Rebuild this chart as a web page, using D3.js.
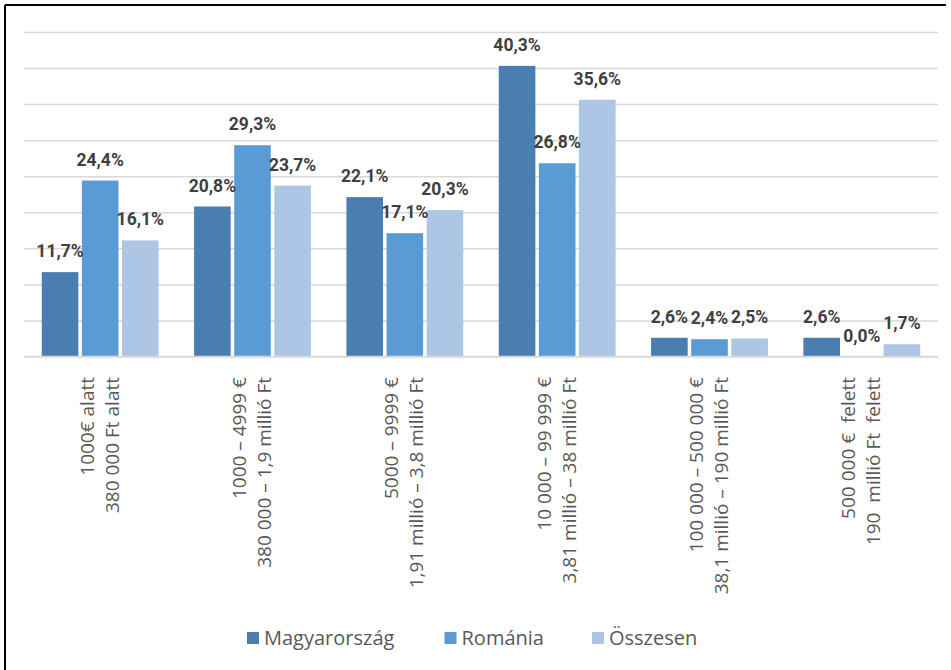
<!DOCTYPE html>
<html>
<head>
<meta charset="utf-8">
<script src="https://cdn.jsdelivr.net/npm/d3@7/dist/d3.min.js"></script>
<style>
  html, body { margin: 0; padding: 0; background: #fff; }
  svg { display: block; }
</style>
</head>
<body>
<svg id="chart" width="951" height="670"></svg>
<script>
// Income bands (two-line labels: EUR range / HUF range)
const categories = [
  ["1000€ alatt", "380 000 Ft alatt"],
  ["1000 – 4999 €", "380 000 – 1,9 millió Ft"],
  ["5000 – 9999 €", "1,91 millió – 3,8 millió Ft"],
  ["10 000 – 99 999 €", "3,81 millió – 38 millió Ft"],
  ["100 000 – 500 000 €", "38,1 millió – 190 millió Ft"],
  ["500 000 €  felett", "190  millió Ft  felett"]
];
const seriesNames = ["Magyarország", "Románia", "Összesen"];
const magyarorszag = [11.7, 20.8, 22.1, 40.3, 2.6, 2.6];
const romania      = [24.4, 29.3, 17.1, 26.8, 2.4, 0.0];
const osszesen     = [16.1, 23.7, 20.3, 35.6, 2.5, 1.7];
const yTicks = [0, 5, 10, 15, 20, 25, 30, 35, 40, 45];

const seriesValues = [magyarorszag, romania, osszesen];
const colors = ["#4a7eb0", "#5b9bd5", "#adc6e6"];

const svg = d3.select("#chart");

// outer frame (top and left edges)
svg.append("line").attr("x1", 5).attr("x2", 946).attr("y1", 5).attr("y2", 5)
  .attr("stroke", "#000").attr("stroke-width", 2);
svg.append("line").attr("x1", 5).attr("x2", 5).attr("y1", 5).attr("y2", 670)
  .attr("stroke", "#000").attr("stroke-width", 2);

const plot = { left: 24, right: 938, top: 32, bottom: 356.5 };

const x0 = d3.scaleBand()
  .domain(d3.range(categories.length))
  .range([plot.left, plot.right])
  .paddingInner(0.21)
  .paddingOuter(0.105);

const x1 = d3.scaleBand()
  .domain(d3.range(seriesNames.length))
  .range([0, x0.bandwidth()]);

const y = d3.scaleLinear().domain([0, 45]).range([plot.bottom, plot.top]);

// horizontal gridlines
const yAxis = d3.axisLeft(y).tickValues(yTicks).tickSize(-(plot.right - plot.left)).tickFormat("");
const gy = svg.append("g").attr("transform", `translate(${plot.left},0)`).call(yAxis);
gy.select(".domain").remove();
gy.selectAll(".tick line").attr("stroke", "#d9d9d9").attr("stroke-width", 1.5);

// bars
const groups = svg.append("g").selectAll("g")
  .data(categories.map((c, i) => i))
  .join("g")
  .attr("transform", i => `translate(${x0(i)},0)`);

const gap = 3.5;
groups.selectAll("rect")
  .data(i => seriesValues.map((vals, s) => ({ s, v: vals[i] })))
  .join("rect")
  .attr("x", d => x1(d.s) + gap / 2)
  .attr("width", x1.bandwidth() - gap)
  .attr("y", d => y(d.v))
  .attr("height", d => y(0) - y(d.v))
  .attr("fill", d => colors[d.s]);

// value labels
groups.selectAll("text.val")
  .data(i => seriesValues.map((vals, s) => ({ s, v: vals[i] })))
  .join("text")
  .attr("class", "val")
  .attr("x", d => x1(d.s) + x1.bandwidth() / 2)
  .attr("y", d => y(d.v) - 15)
  .attr("text-anchor", "middle")
  .attr("font-family", "Roboto, 'Liberation Sans', sans-serif")
  .attr("font-weight", "bold")
  .attr("font-size", 17.5)
  .attr("fill", "#404040")
  .text(d => d3.format(".1f")(d.v).replace(".", ",") + "%");

// baseline axis
svg.append("line")
  .attr("x1", plot.left).attr("x2", plot.right)
  .attr("y1", y(0)).attr("y2", y(0))
  .attr("stroke", "#d9d9d9").attr("stroke-width", 1.5);

// rotated category labels
const catG = svg.append("g").selectAll("g")
  .data(categories.map((c, i) => i))
  .join("g")
  .attr("transform", i => `translate(${x0(i) + x0.bandwidth() / 2},377) rotate(-90)`);

catG.selectAll("text")
  .data(i => categories[i].map((t, k) => ({ t, k })))
  .join("text")
  .attr("x", 0)
  .attr("y", d => (d.k === 0 ? -13 : 12) + 6.5)
  .attr("text-anchor", "end")
  .attr("font-family", "'Open Sans', sans-serif")
  .attr("font-size", 19)
  .attr("fill", "#595959")
  .style("white-space", "pre")
  .text(d => d.t);

// legend
const legendX = [247, 444.5, 592];
const legend = svg.append("g").selectAll("g")
  .data(seriesNames.map((n, i) => i))
  .join("g")
  .attr("transform", i => `translate(${legendX[i]},632)`);
legend.append("rect").attr("width", 12).attr("height", 12).attr("fill", i => colors[i]);
legend.append("text")
  .attr("x", 17).attr("y", 13)
  .attr("font-family", "'Open Sans', sans-serif")
  .attr("font-size", 20)
  .attr("fill", "#595959")
  .text(i => seriesNames[i]);
</script>
</body>
</html>
